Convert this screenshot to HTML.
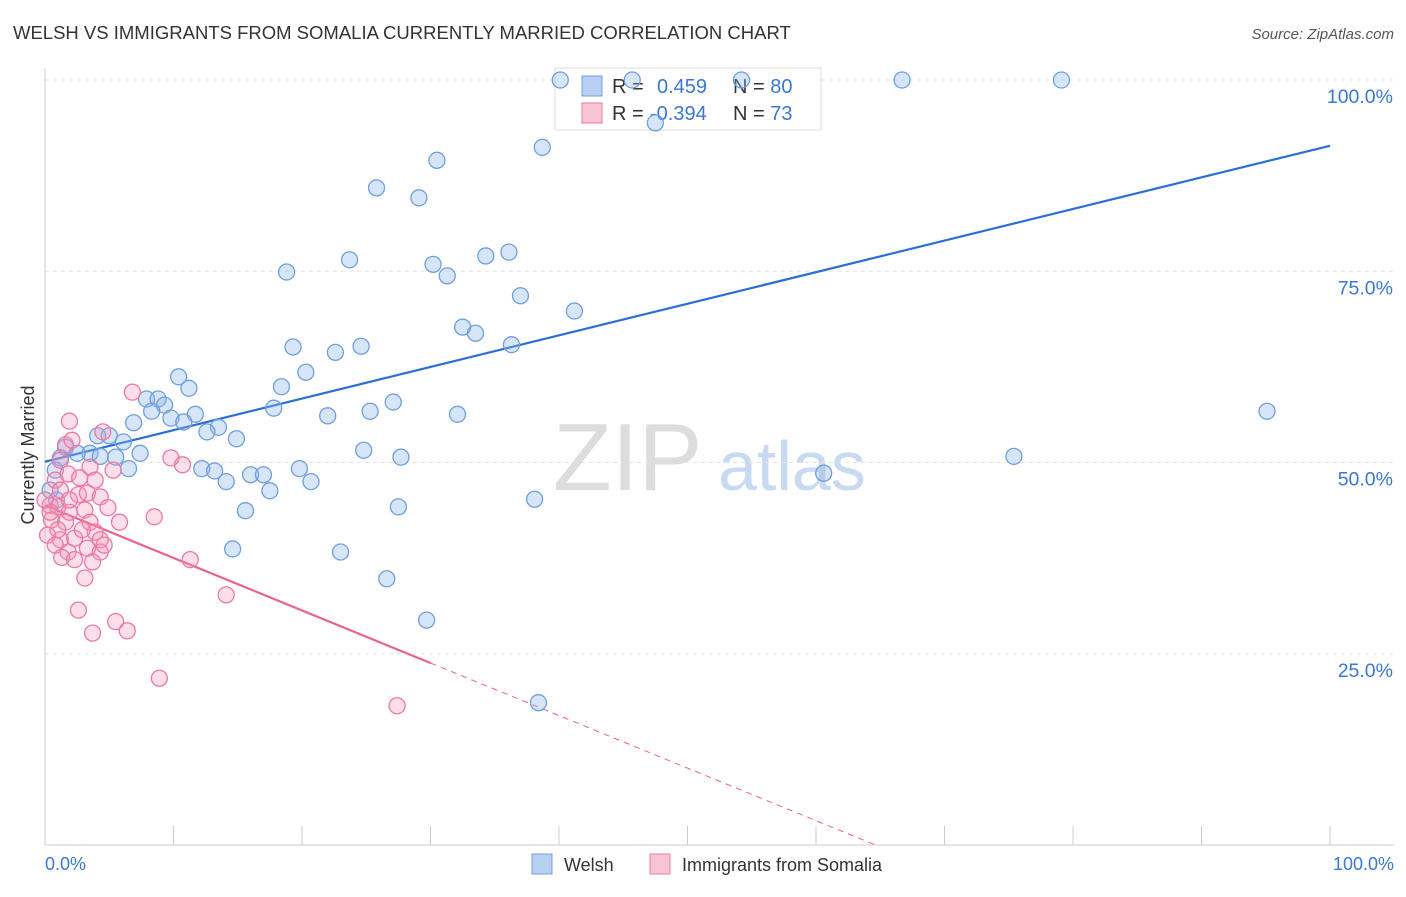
<!DOCTYPE html>
<html><head><meta charset="utf-8"><style>
body{margin:0;background:#fff;font-family:"Liberation Sans",sans-serif}
svg text{font-family:"Liberation Sans",sans-serif}
</style></head><body>
<svg id="chart" width="1406" height="892" viewBox="0 0 1406 892">
<text x="13" y="39" font-size="18.5" fill="#333">WELSH VS IMMIGRANTS FROM SOMALIA CURRENTLY MARRIED CORRELATION CHART</text>
<text x="1394" y="39" font-size="15" fill="#555" font-style="italic" text-anchor="end">Source: ZipAtlas.com</text>
<g>
<text x="553" y="490" font-size="96" fill="#ddd" font-family="Liberation Serif,serif">ZIP</text>
<text x="718" y="490" font-size="70" fill="#c8daf2">atlas</text>
</g>
<g id="grid"></g>
<g id="axes"></g>
<g>
<rect x="555" y="68" width="266" height="62" fill="#fff" stroke="#ddd"/>
<rect x="582" y="76" width="20" height="20" fill="#b8d1f3" stroke="#6f9fe0"/>
<text x="612" y="93" font-size="20" fill="#333">R = <tspan x="657" fill="#3a77d6">0.459</tspan><tspan x="733">N = </tspan><tspan fill="#3a77d6">80</tspan></text>
<rect x="582" y="103" width="20" height="20" fill="#f8c3d3" stroke="#ec7aa0"/>
<text x="612" y="120" font-size="20" fill="#333">R = <tspan x="650" fill="#3a77d6">-0.394</tspan><tspan x="733">N = </tspan><tspan fill="#3a77d6">73</tspan></text>
</g>
<g id="lines"></g>
<g id="points"></g>
<text transform="translate(34,455) rotate(-90)" font-size="18" fill="#333" text-anchor="middle">Currently Married</text>
<text x="45" y="870" font-size="18" fill="#3a77d6">0.0%</text>
<text x="1394" y="870" font-size="18" fill="#3a77d6" text-anchor="end">100.0%</text>
<g>
<rect x="532" y="854" width="20" height="20" fill="#b8d1f3" stroke="#6f9fe0"/>
<text x="564" y="871" font-size="18" fill="#333">Welsh</text>
<rect x="650" y="854" width="20" height="20" fill="#f8c3d3" stroke="#ec7aa0"/>
<text x="682" y="871" font-size="18" fill="#333">Immigrants from Somalia</text>
</g>
</svg>
<script>
const welshX=[40.1,45.7,54.2,66.7,79.1,47.5,38.7,30.5,25.8,29.1,18.8,23.7,30.2,31.3,34.3,36.1,37.0,41.2,32.5,33.5,36.3,19.3,22.6,24.6,20.3,18.4,10.4,11.2,7.9,8.8,9.3,8.3,9.8,11.7,10.8,6.9,13.5,12.6,14.9,22.0,25.3,27.1,32.1,17.8,4.1,5.0,6.1,1.6,3.5,2.5,4.3,5.5,7.4,6.5,1.2,0.8,0.4,12.2,13.2,14.1,16.0,17.0,17.5,19.8,20.7,24.8,27.7,15.6,14.6,23.0,27.5,38.1,26.6,29.7,38.4,60.6,75.4,95.1,0.9];
const welshY=[100,100,100,100,100,94.4,91.2,89.5,85.9,84.6,74.9,76.5,75.9,74.4,77.0,77.5,71.8,69.8,67.7,66.9,65.4,65.1,64.4,65.2,61.8,59.9,61.2,59.7,58.3,58.3,57.5,56.7,55.8,56.3,55.3,55.2,54.6,54.0,53.1,56.1,56.7,57.9,56.3,57.1,53.5,53.5,52.7,52.0,51.2,51.2,50.8,50.7,51.2,49.2,50.6,49.0,46.4,49.2,48.9,47.5,48.4,48.4,46.3,49.2,47.5,51.6,50.7,43.7,38.7,38.3,44.2,45.2,34.8,29.4,18.6,48.6,50.8,56.7,45.1];
const somX=[6.8,1.9,4.5,1.6,2.1,1.2,3.5,5.3,10.7,9.8,0.8,1.8,2.7,3.9,1.2,2.6,3.3,4.3,0.4,1.0,1.9,3.1,4.9,0.5,1.6,3.5,5.8,8.5,0.2,1.2,2.3,3.9,4.3,0.8,1.8,3.3,4.3,1.3,2.3,3.7,11.3,3.1,2.6,5.5,6.4,3.7,8.9,14.1,27.4,0.4,0,1.0,2.9,4.6,1.9];
const somY=[59.2,55.4,54.0,52.3,52.9,50.3,49.4,49.0,49.7,50.6,47.7,48.5,48.0,47.7,46.4,45.8,46.0,45.5,44.4,44.2,43.5,43.8,44.1,42.5,42.2,42.2,42.2,42.9,40.5,39.9,40.1,40.9,39.9,39.2,38.3,38.8,38.3,37.6,37.3,37.0,37.3,34.9,30.7,29.2,28.0,27.7,21.8,32.7,18.2,43.5,45.1,41.2,41.2,39.2,45.1];
const yTicks=[25,50,75,100];
const yTickLabels=["25.0%","50.0%","75.0%","100.0%"];
const xTicks=[0,10,20,30,40,50,60,70,80,90,100];
const welshTrend=[50.1,91.4];
const somTrend=[44.4,-0.687];
const somSolidEnd=30;

const NS="http://www.w3.org/2000/svg";
const sx=v=>45+v*12.85, sy=v=>845-v*7.65;
function mk(tag,parent,attrs){const e=document.createElementNS(NS,tag);for(const k in attrs)e.setAttribute(k,attrs[k]);parent.appendChild(e);return e;}
const grid=document.getElementById('grid'),axes=document.getElementById('axes'),lines=document.getElementById('lines'),pts=document.getElementById('points');
yTicks.forEach((t,i)=>{
 const l=mk('line',grid,{x1:45,x2:1394,y1:sy(t),y2:sy(t),stroke:'#e3e3e3','stroke-dasharray':'4,4'});
 
 
 const tx=mk('text',grid,{x:1393,y:sy(t)+23,'font-size':19.5,fill:'#3a77d6','text-anchor':'end'});
 tx.textContent=yTickLabels[i];
 
 
});
const xa=mk('line',axes,{x1:45,x2:1394,y1:845,y2:845,stroke:'#ccc'});


const ya=mk('line',axes,{x1:45,x2:45,y1:68,y2:845,stroke:'#ccc'});


xTicks.forEach(t=>{
 const l=mk('line',axes,{x1:sx(t),x2:sx(t),y1:826,y2:845,stroke:'#ccc'});
 
 
});
const bl=mk('line',lines,{x1:sx(0),y1:sy(welshTrend[0]),x2:sx(100),y2:sy(welshTrend[1]),stroke:'#2a6fd6','stroke-width':2.2});


const pEnd=somTrend[0]+somTrend[1]*somSolidEnd;
const pl=mk('line',lines,{x1:sx(0),y1:sy(somTrend[0]),x2:sx(somSolidEnd),y2:sy(pEnd),stroke:'#e8638f','stroke-width':2.2});


const zeroX=-somTrend[0]/somTrend[1];
const pd=mk('line',lines,{x1:sx(somSolidEnd),y1:sy(pEnd),x2:sx(zeroX),y2:sy(0),stroke:'#e8638f','stroke-width':1,'stroke-dasharray':'6,5'});


welshX.forEach((x,i)=>{
 const c=mk('circle',pts,{cx:sx(x),cy:sy(welshY[i]),r:8,fill:'rgba(140,180,235,0.35)',stroke:'#6f9fe0','stroke-width':1.3});
 
 
});
somX.forEach((x,i)=>{
 const c=mk('circle',pts,{cx:sx(x),cy:sy(somY[i]),r:8,fill:'rgba(244,150,185,0.3)',stroke:'#ec7aa0','stroke-width':1.3});
 
 
});
</script>
</body></html>
